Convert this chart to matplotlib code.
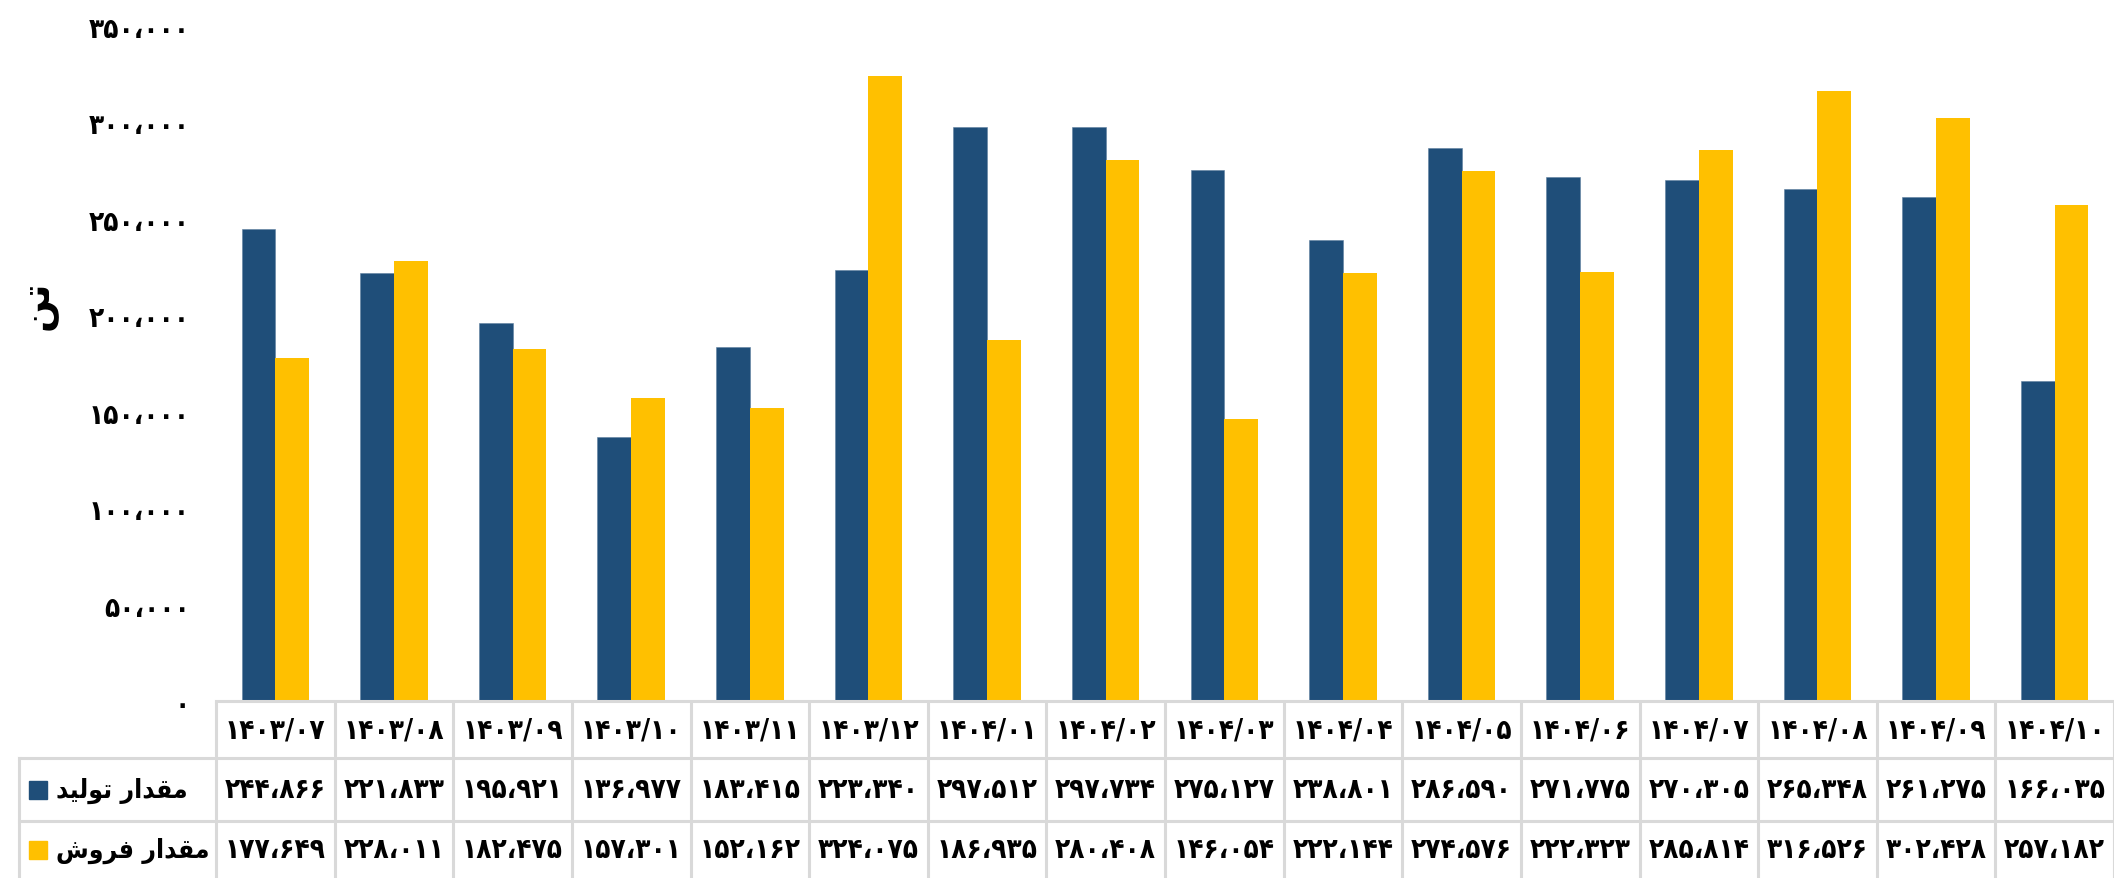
import matplotlib.pyplot as plt
import numpy as np

# monthly figures (tonnes)
months = ['1403/07', '1403/08', '1403/09', '1403/10', '1403/11', '1403/12',
          '1404/01', '1404/02', '1404/03', '1404/04', '1404/05', '1404/06',
          '1404/07', '1404/08', '1404/09', '1404/10']
production = [244866, 221833, 195921, 136977, 183415, 223340, 297512, 297734,
              275127, 238801, 286590, 271775, 270305, 265348, 261275, 166035]
sales = [177649, 228011, 182475, 157301, 152162, 324075, 186935, 280408,
         146054, 222144, 274576, 222323, 285814, 316526, 302428, 257182]
yticks = [0, 50000, 100000, 150000, 200000, 250000, 300000, 350000]

# series names and axis label, already shaped (presentation forms, visual order)
# مقدار تولید / مقدار فروش / تن
name_prod = '\uFEAA\uFEF4\uFEDF\uFEEE\uFE97 \uFEAD\uFE8D\uFEAA\uFED8\uFEE3'
name_sales = '\uFEB5\uFEED\uFEAE\uFED3 \uFEAD\uFE8D\uFEAA\uFED8\uFEE3'
unit_label = '\uFEE6\uFE97'

BLUE = '#1F4E79'
YELLOW = '#FFC000'
GRID = '#D9D9D9'
FONT = 'DejaVu Sans'
NUM = dict(fontsize=20, fontweight='bold', family=FONT, fontstretch='condensed')

fa_digits = str.maketrans('0123456789,', '\u06F0\u06F1\u06F2\u06F3\u06F4\u06F5\u06F6\u06F7\u06F8\u06F9\u060C')


def fa(v):
    if isinstance(v, str):
        return v.translate(fa_digits)
    return f'{v:,}'.translate(fa_digits)


W, H = 2114, 879
fig = plt.figure(figsize=(W / 100, H / 100), dpi=100, facecolor='white')

# pixel layout of the plot area
left_px, top_px, zero_px = 216, 27, 702
ax = fig.add_axes([left_px / W, (H - zero_px) / H, (W - left_px) / W, (zero_px - top_px) / H])

n = len(months)
x = np.arange(n)
w = 0.285
ax.bar(x - w / 2, production, w, color=BLUE, edgecolor='#5f7f9f', linewidth=0.4)
ax.bar(x + w / 2, sales, w, color=YELLOW, linewidth=0)
ax.set_xlim(-0.5, n - 0.5)
ax.set_ylim(0, 350000)
ax.set_xticks([])
ax.set_yticks(yticks)
ax.set_yticklabels([fa(v) for v in yticks], **NUM)
ax.tick_params(axis='y', length=0, pad=19)
for s in ax.spines.values():
    s.set_visible(False)

fig.text(38 / W, 1 - 305 / H, unit_label, rotation=90, ha='center', va='center',
         fontsize=28, fontweight='bold', family=FONT)

# data table underneath, columns aligned with the categories
col_px = (W - left_px) / n
tax = fig.add_axes([0, 0, 1, (H - zero_px) / H])
tax.set_xlim(-0.5 - left_px / col_px, n - 0.5)
tax.set_ylim(H - zero_px, 0)
tax.axis('off')


def px(p):
    return -0.5 + (p - left_px) / col_px


row1, row2, row3 = 57, 120, H - zero_px
leg_left = px(19)

tax.plot([-0.5, n - 0.5], [0, 0], color=GRID, lw=2.2, clip_on=False)
tax.plot([leg_left, n - 0.5], [row1, row1], color=GRID, lw=2.2)
tax.plot([leg_left, n - 0.5], [row2, row2], color=GRID, lw=2.2)
tax.plot([leg_left, leg_left], [row1, row3], color=GRID, lw=2.2)
for b in np.arange(n + 1) - 0.5:
    tax.plot([b, b], [0, row3], color=GRID, lw=2.2)

for i in range(n):
    tax.text(i, row1 / 2, fa(months[i]), ha='center', va='center', **NUM)
    tax.text(i, (row1 + row2) / 2, fa(production[i]), ha='center', va='center', **NUM)
    tax.text(i, (row2 + row3) / 2, fa(sales[i]), ha='center', va='center', **NUM)

# legend keys in the first column
for name, color, y0, y1 in [(name_prod, BLUE, row1, row2), (name_sales, YELLOW, row2, row3)]:
    yc = (y0 + y1) / 2
    tax.add_patch(plt.Rectangle((px(29), yc - 9), px(47) - px(29), 18, color=color))
    tax.text(px(56), yc, name, ha='left', va='center', fontsize=19,
             fontweight='bold', family=FONT, fontstretch='condensed')

fig.savefig('out.png', dpi=100, facecolor='white')
